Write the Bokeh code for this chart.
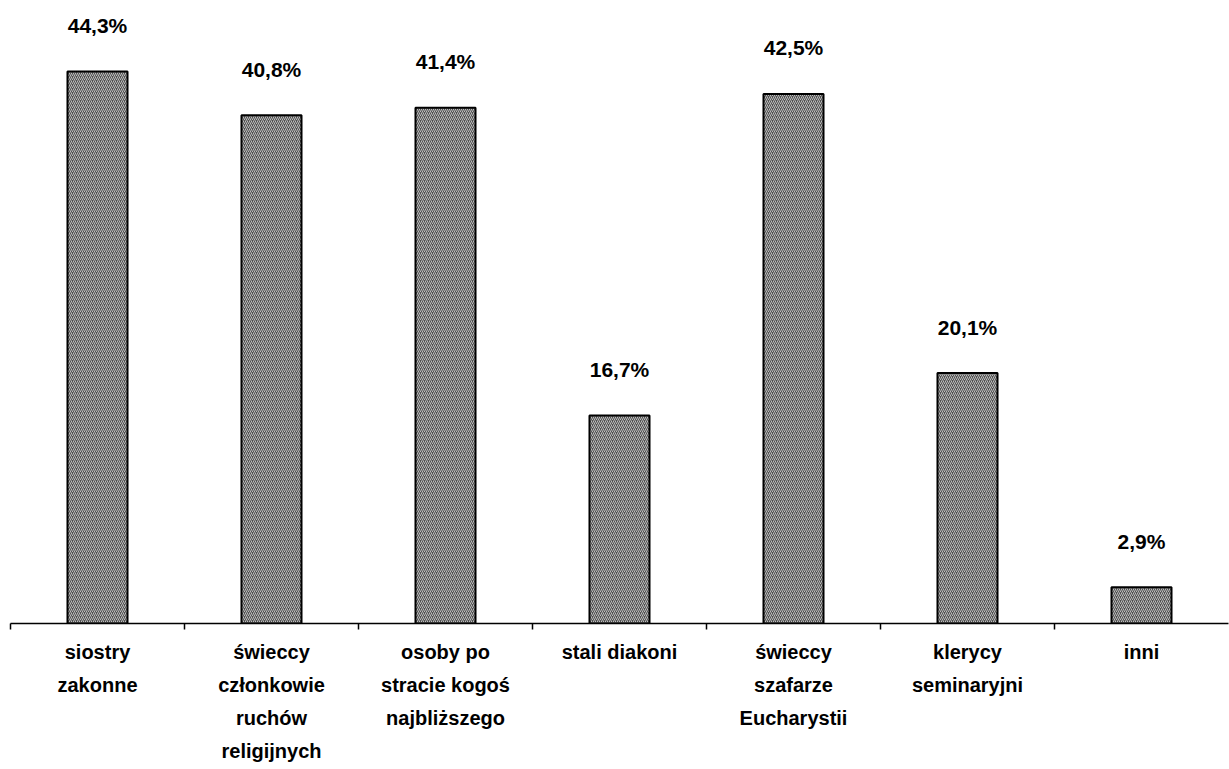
from bokeh.plotting import figure
from bokeh.models import FixedTicker, ColumnDataSource, Range1d
from bokeh.core.properties import value
from bokeh.embed import file_html
from bokeh.resources import INLINE

categories = [
    "siostry\nzakonne",
    "świeccy\nczłonkowie\nruchów\nreligijnych",
    "osoby po\nstracie kogoś\nnajbliższego",
    "stali diakoni",
    "świeccy\nszafarze\nEucharystii",
    "klerycy\nseminaryjni",
    "inni",
]
values = [44.3, 40.8, 41.4, 16.7, 42.5, 20.1, 2.9]
value_labels = ["44,3%", "40,8%", "41,4%", "16,7%", "42,5%", "20,1%", "2,9%"]

n = len(categories)
centers = [i + 0.5 for i in range(n)]

src = ColumnDataSource(dict(x=centers, top=values, lab=value_labels))

p = figure(width=1229, height=769, output_backend="svg", toolbar_location=None,
           x_range=Range1d(0, n), y_range=Range1d(0, 50),
           min_border_left=10, min_border_right=1, min_border_top=0, min_border_bottom=146)
p.outline_line_color = None
p.xgrid.visible = False
p.ygrid.visible = False
p.yaxis.visible = False
p.background_fill_color = "white"
p.border_fill_color = "white"

p.vbar(x="x", top="top", width=0.345, bottom=0, source=src,
       fill_color="#505050", line_color="black", line_width=2,
       hatch_pattern="/", hatch_color="#bdbdbd", hatch_scale=4, hatch_weight=1)

p.text(x="x", y="top", text="lab", source=src, y_offset=-46,
       text_align="center", text_baseline="middle",
       text_font=value("Liberation Sans"), text_font_style="bold",
       text_font_size="21px", text_color="black")

ax = p.xaxis[0]
ax.ticker = FixedTicker(ticks=centers, minor_ticks=list(range(n)))
ax.major_label_overrides = {c: lab for c, lab in zip(centers, categories)}
ax.major_tick_line_color = None
ax.major_tick_out = 0
ax.major_tick_in = 0
ax.minor_tick_line_color = "black"
ax.minor_tick_out = 6
ax.minor_tick_in = 0
ax.minor_tick_line_width = 1.5
ax.axis_line_color = "black"
ax.axis_line_width = 1.5
ax.major_label_standoff = 11
ax.major_label_text_font = "Liberation Sans"
ax.major_label_text_font_style = "bold"
ax.major_label_text_font_size = "20px"
ax.major_label_text_color = "black"
ax.major_label_text_line_height = 1.5
ax.major_label_orientation = "horizontal"

open("out.html", "w").write(file_html(p, INLINE))
